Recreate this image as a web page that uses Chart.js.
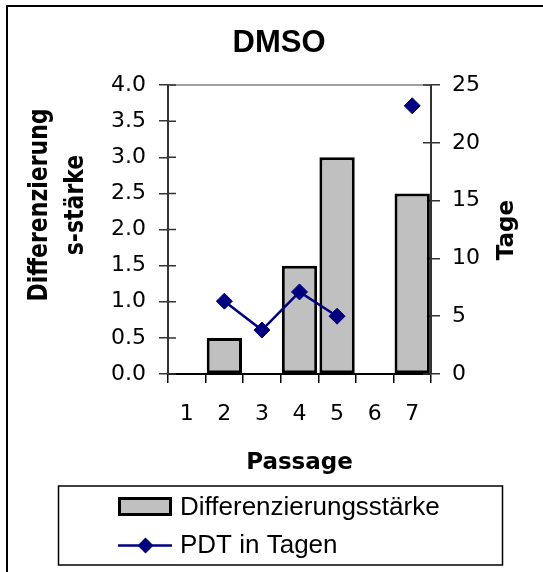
<!DOCTYPE html>
<html>
<head>
<meta charset="utf-8">
<script src="https://cdn.jsdelivr.net/npm/chart.js@4"></script>
<style>
  body { margin: 0; background: #fff; }
  #wrap { position: relative; width: 543px; height: 572px; overflow: hidden; }
  #frame { position: absolute; left: 6px; top: 5px; width: 600px; height: 600px;
           border-left: 2px solid #000; border-top: 2px solid #000; }
  canvas { position: absolute; left: 0; top: 0; }
</style>
</head>
<body>
<div id="wrap">
  <div id="frame"></div>
  <canvas id="dmsoChart" width="543" height="572"></canvas>
</div>
<script>
/* Data */
const passages = ["1", "2", "3", "4", "5", "6", "7"];
const diffStaerke = [0, 0.5, 0, 1.5, 3.0, 0, 2.5];
const pdtTage = [null, 6.3, 3.8, 7.1, 5.0, null, 23.2];

const leftTitle = ["Differenzierung", "s-stärke"];
const rightTitle = "Tage";

const tickFont = { family: "DejaVu Sans", size: 22 };
const boldFont = (size) => ({ family: "DejaVu Sans", size: size, weight: "bold", lineHeight: 1.2 });

/* inner tick marks + top border of plot area */
const frameLines = {
  id: "frameLines",
  beforeDatasetsDraw(chart) {
    const { ctx, chartArea: a, scales } = chart;
    ctx.save();
    ctx.strokeStyle = "#808080";
    ctx.lineWidth = 1.5;
    ctx.beginPath();
    ctx.moveTo(a.left, a.top);
    ctx.lineTo(a.right, a.top);
    ctx.stroke();

    ctx.strokeStyle = "#333";
    ctx.lineWidth = 1.5;
    ctx.beginPath();
    scales.y.ticks.forEach((t) => {
      const py = scales.y.getPixelForValue(t.value);
      ctx.moveTo(a.left, py);
      ctx.lineTo(a.left + 8, py);
    });
    scales.y1.ticks.forEach((t) => {
      const py = scales.y1.getPixelForValue(t.value);
      ctx.moveTo(a.right - 8, py);
      ctx.lineTo(a.right, py);
    });
    ctx.stroke();
    ctx.restore();
  },
};

/* rotated y axis titles (both read bottom to top) */
const axisTitles = {
  id: "axisTitles",
  afterDraw(chart) {
    const { ctx } = chart;
    const draw = (text, x, y, size, stretch) => {
      ctx.save();
      ctx.translate(x, y);
      ctx.scale(stretch, 1);
      ctx.rotate(-Math.PI / 2);
      ctx.font = "bold " + size + "px 'DejaVu Sans'";
      ctx.fillStyle = "#000";
      ctx.textAlign = "center";
      ctx.textBaseline = "middle";
      ctx.fillText(text, 0, 0);
      ctx.restore();
    };
    draw(leftTitle[0], 40.5, 205, 22, 1.2);
    draw(leftTitle[1], 76, 205, 22, 1.2);
    draw(rightTitle, 507.5, 230, 23, 1.0);
  },
};

/* boxed legend, two rows */
const boxLegend = {
  id: "boxLegend",
  afterDraw(chart) {
    const { ctx } = chart;
    const [bars, line] = chart.data.datasets;
    ctx.save();
    ctx.strokeStyle = "#000";
    ctx.lineWidth = 1.5;
    ctx.strokeRect(58.5, 486, 444, 79);

    // bar swatch
    ctx.fillStyle = bars.backgroundColor;
    ctx.fillRect(119.5, 498.5, 51, 16);
    ctx.strokeStyle = bars.borderColor;
    ctx.lineWidth = 3;
    ctx.strokeRect(119.5, 498.5, 51, 16);

    // line swatch
    ctx.strokeStyle = line.borderColor;
    ctx.lineWidth = 2.5;
    ctx.beginPath();
    ctx.moveTo(118, 545.5);
    ctx.lineTo(172, 545.5);
    ctx.stroke();
    ctx.fillStyle = line.pointBackgroundColor;
    ctx.beginPath();
    ctx.moveTo(145.5, 537.5);
    ctx.lineTo(153.5, 545.5);
    ctx.lineTo(145.5, 553.5);
    ctx.lineTo(137.5, 545.5);
    ctx.closePath();
    ctx.fill();

    ctx.fillStyle = "#000";
    ctx.font = "26px 'Liberation Sans'";
    ctx.textAlign = "left";
    ctx.textBaseline = "alphabetic";
    ctx.fillText(bars.label, 180, 515);
    ctx.fillText(line.label, 180, 552.5);
    ctx.restore();
  },
};

/* Chart */
const dmsoChart = new Chart(document.getElementById("dmsoChart"), {
  type: "bar",
  data: {
    labels: passages,
    datasets: [
      {
        label: "Differenzierungsstärke",
        data: diffStaerke,
        yAxisID: "y",
        backgroundColor: "#c0c0c0",
        borderColor: "#000",
        borderWidth: 3,
        borderSkipped: false,
        barPercentage: 0.94,
        categoryPercentage: 1.0,
        order: 1,
      },
      {
        type: "line",
        label: "PDT in Tagen",
        data: pdtTage,
        yAxisID: "y1",
        borderColor: "#000080",
        borderWidth: 2.5,
        pointStyle: "rectRot",
        pointRadius: 8,
        pointBackgroundColor: "#000080",
        pointBorderColor: "#000080",
        pointBorderWidth: 1,
        spanGaps: false,
        tension: 0,
        order: 0,
      },
    ],
  },
  options: {
    responsive: false,
    animation: false,
    devicePixelRatio: 1,
    layout: { padding: { left: 15 } },
    plugins: {
      legend: { display: false },
      tooltip: { enabled: false },
      title: {
        display: true,
        text: "DMSO",
        color: "#000",
        font: { family: "Liberation Sans", size: 31, weight: "bold", lineHeight: 1.2 },
        padding: { top: 24.4, bottom: 23.4 },
      },
    },
    scales: {
      x: {
        grid: { drawOnChartArea: false, tickLength: 9, color: "#000", lineWidth: 1.5 },
        border: { color: "#000", width: 2 },
        ticks: { font: tickFont, color: "#000", padding: 18, maxRotation: 0 },
        title: {
          display: true,
          text: "Passage",
          color: "#000",
          font: boldFont(23),
          padding: { top: 0, bottom: 95 },
        },
        afterFit: (s) => { s.height = 198; },
      },
      y: {
        position: "left",
        min: 0,
        max: 4,
        grid: { drawOnChartArea: false, tickLength: 9, color: "#333", lineWidth: 1.5 },
        border: { color: "#333", width: 2 },
        ticks: {
          stepSize: 0.5,
          font: tickFont,
          color: "#000",
          padding: 13,
          callback: (v) => v.toFixed(1),
        },
        afterFit: (s) => { s.width = 153; },
      },
      y1: {
        position: "right",
        min: 0,
        max: 25,
        grid: { drawOnChartArea: false, tickLength: 9, color: "#333", lineWidth: 1.5 },
        border: { color: "#333", width: 2 },
        ticks: { stepSize: 5, font: tickFont, color: "#000", padding: 12 },
        afterFit: (s) => { s.width = 112; },
      },
    },
  },
  plugins: [frameLines, axisTitles, boxLegend],
});
</script>
</body>
</html>
